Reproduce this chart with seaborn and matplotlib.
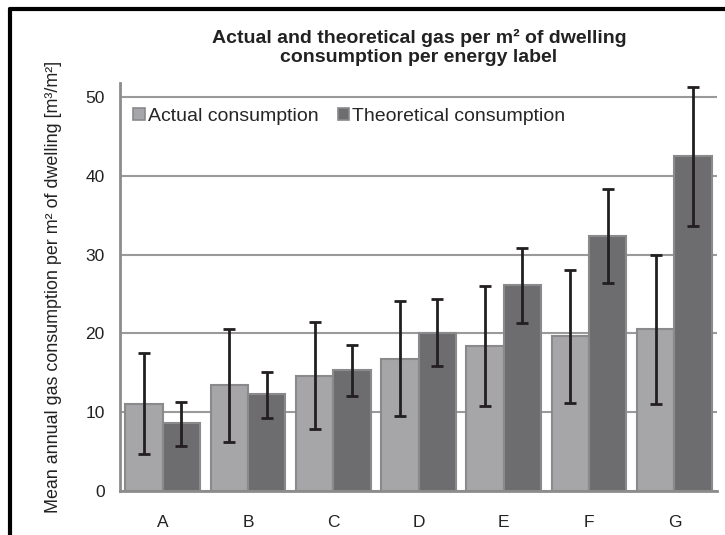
import matplotlib
matplotlib.use('Agg')
import matplotlib.pyplot as plt
from matplotlib.lines import Line2D
from matplotlib.ticker import FixedLocator, NullFormatter
import numpy as np
import pandas as pd
import seaborn as sns

LABELS = ['A', 'B', 'C', 'D', 'E', 'F', 'G']
SERIES = ['Actual consumption', 'Theoretical consumption']

actual_mean = [11.1, 13.4, 14.6, 16.8, 18.4, 19.7, 20.6]
actual_low = [4.7, 6.2, 7.9, 9.5, 10.8, 11.2, 11.1]
actual_high = [17.5, 20.6, 21.4, 24.1, 26.0, 28.0, 30.0]

theo_mean = [8.6, 12.3, 15.3, 20.1, 26.1, 32.4, 42.5]
theo_low = [5.7, 9.3, 12.0, 15.8, 21.3, 26.4, 33.6]
theo_high = [11.3, 15.1, 18.5, 24.3, 30.8, 38.3, 51.3]

BAR_COLORS = ['#a5a6aa', '#6d6d6f']
EDGE = '#8a8a8c'
AXIS_GRAY = '#8c8c8c'
TEXT = '#222222'


def build_frame():
	rows = []
	for i, lab in enumerate(LABELS):
		rows.append({'label': lab, 'series': SERIES[0], 'value': actual_mean[i]})
		rows.append({'label': lab, 'series': SERIES[1], 'value': theo_mean[i]})
	return pd.DataFrame(rows)


sns.set_style('white')
plt.rcParams['font.family'] = ['Liberation Sans', 'DejaVu Sans']

fig = plt.figure(figsize=(7.25, 5.35), dpi=100)
ax = fig.add_axes([0.1655, 0.0822, 0.8235, 0.7632])

data = build_frame()
sns.barplot(data=data, x='label', y='value', hue='series', order=LABELS,
	hue_order=SERIES, palette=BAR_COLORS, width=0.875, errorbar=None,
	edgecolor=EDGE, linewidth=1.5, ax=ax, zorder=2)

# error bars at the centres of the bars seaborn drew
lows = [actual_low, theo_low]
highs = [actual_high, theo_high]
means = [actual_mean, theo_mean]
bar_containers = list(ax.containers)
for k, cont in enumerate(bar_containers):
	xs = [p.get_x() + p.get_width() / 2 for p in cont.patches]
	m = np.array(means[k])
	err = [m - np.array(lows[k]), np.array(highs[k]) - m]
	ax.errorbar(xs, m, yerr=err, fmt='none', ecolor='#231f20', elinewidth=2,
		capsize=4.6, capthick=2, zorder=3)

ax.set_xlim(-0.5, len(LABELS) - 0.5)
ax.set_ylim(0, 51.8)
ax.set_yticks([0, 10, 20, 30, 40, 50])
ax.yaxis.grid(True, color='#9a9a9a', linewidth=1.5)
ax.set_axisbelow(True)

# category boundaries carry the tick marks, labels sit in between
ax.xaxis.set_major_locator(FixedLocator(np.arange(-0.5, len(LABELS), 1.0)))
ax.xaxis.set_major_formatter(NullFormatter())
ax.xaxis.set_minor_locator(FixedLocator(np.arange(len(LABELS))))
ax.set_xticklabels(LABELS, minor=True)
ax.tick_params(axis='x', which='major', direction='out', length=4.5, width=1.5,
	color=AXIS_GRAY)
ax.tick_params(axis='x', which='minor', length=0, pad=17, labelsize=12.5,
	labelcolor=TEXT)
ax.tick_params(axis='y', direction='out', length=4, width=1.5, color=AXIS_GRAY,
	labelsize=12.5, labelcolor=TEXT, pad=7)

for side in ['top', 'right']:
	ax.spines[side].set_visible(False)
for side in ['left', 'bottom']:
	ax.spines[side].set_color(AXIS_GRAY)
	ax.spines[side].set_linewidth(2)

ax.set_xlabel('')
ax.set_ylabel('Mean annual gas consumption per m² of dwelling [m³/m²]',
	fontsize=12.9, color=TEXT)
ax.yaxis.set_label_coords(-0.097, 0.5)

handles = [plt.Rectangle((0, 0), 1, 1, facecolor=c, edgecolor=EDGE, linewidth=1.2)
	for c in BAR_COLORS]
ax.legend(handles, SERIES, loc='center left', bbox_to_anchor=(0.022, 0.917),
	frameon=False, ncol=2, handlelength=0.6, handleheight=0.6,
	handletextpad=0.15, columnspacing=1.0, fontsize=14, borderaxespad=0,
	borderpad=0)

fig.text(0.578, 0.911, 'Actual and theoretical gas per m² of dwelling\nconsumption per energy label',
	ha='center', va='center', fontsize=14, fontweight='bold', color=TEXT,
	linespacing=1.2)

# black frame on the top and left edge of the picture
fig.add_artist(Line2D([10 / 725, 1], [1 - 9 / 535, 1 - 9 / 535], color='black',
	linewidth=3, transform=fig.transFigure))
fig.add_artist(Line2D([10 / 725, 10 / 725], [0, 1 - 9 / 535], color='black',
	linewidth=3, transform=fig.transFigure))

fig.savefig('out.png', dpi=100)
